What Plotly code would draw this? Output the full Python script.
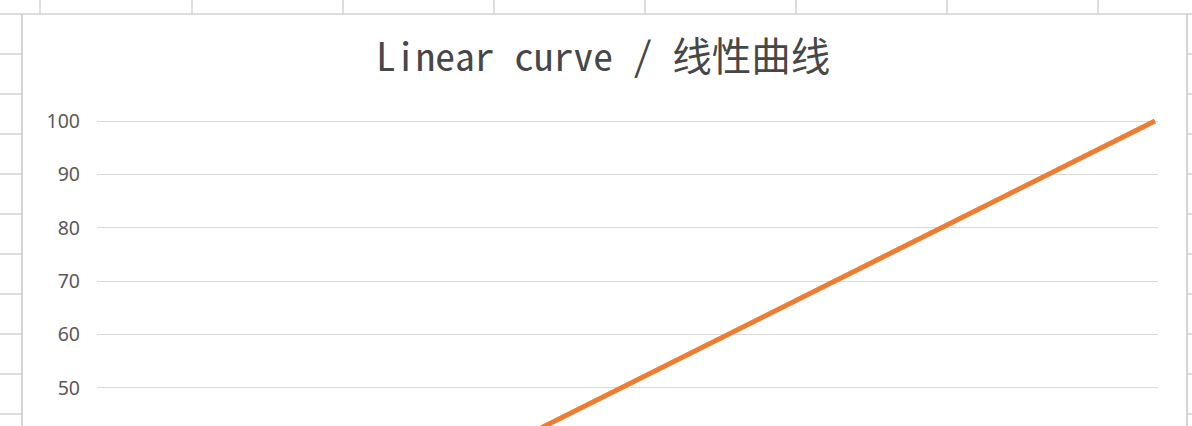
import plotly.graph_objects as go

# ---- data ----
x_values = [0, 10, 20, 30, 40, 50, 60, 70, 80, 90, 100]
y_values = [0, 10, 20, 30, 40, 50, 60, 70, 80, 90, 100]
y_tick_values = [50, 60, 70, 80, 90, 100]
y_tick_labels = ["50", "60", "70", "80", "90", "100"]
title_text = "Linear curve / 线性曲线"

# ---- layout geometry (pixels) ----
W, H = 1192, 426
ML, MR, MT, MB = 97, 34, 110, 0
PW, PH = W - ML - MR, H - MT - MB


def px(xp):
    return (xp - ML) / PW


def py(yp):
    return 1 - (yp - MT) / PH


fig = go.Figure()
fig.add_trace(go.Scatter(
    x=x_values, y=y_values, mode="lines",
    line=dict(color="#ED7D31", width=5),
    hoverinfo="skip", showlegend=False,
))

shapes = []
cell = "#d2d2d2"
# spreadsheet cell lines (outside chart)
shapes.append(dict(type="line", xref="paper", yref="paper",
                   x0=px(0), x1=px(W), y0=py(14), y1=py(14),
                   line=dict(color=cell, width=1.5)))
for xc in [40, 192, 343, 494, 645, 796, 947, 1098]:
    shapes.append(dict(type="line", xref="paper", yref="paper",
                       x0=px(xc), x1=px(xc), y0=py(0), y1=py(14),
                       line=dict(color=cell, width=1.5)))
for yc in [54, 94, 134, 174, 214, 254, 294, 334, 374, 414]:
    shapes.append(dict(type="line", xref="paper", yref="paper",
                       x0=px(0), x1=px(22), y0=py(yc), y1=py(yc),
                       line=dict(color=cell, width=1.5)))
    shapes.append(dict(type="line", xref="paper", yref="paper",
                       x0=px(1187), x1=px(W), y0=py(yc), y1=py(yc),
                       line=dict(color=cell, width=1.5)))
# chart border
shapes.append(dict(type="line", xref="paper", yref="paper",
                   x0=px(22), x1=px(22), y0=py(14), y1=py(H),
                   line=dict(color="#c8c8c8", width=1.5)))
shapes.append(dict(type="line", xref="paper", yref="paper",
                   x0=px(1187), x1=px(1187), y0=py(14), y1=py(H),
                   line=dict(color="#c8c8c8", width=1.5)))

fig.update_layout(
    width=W, height=H,
    margin=dict(l=ML, r=MR, t=MT, b=MB, pad=0),
    paper_bgcolor="white", plot_bgcolor="white",
    shapes=shapes,
    annotations=[dict(
        text=title_text, xref="paper", yref="paper",
        x=px(603), y=py(54), xanchor="center", yanchor="middle",
        showarrow=False,
        font=dict(family="Noto Sans Mono CJK SC, Liberation Mono, Noto Sans CJK SC",
                  size=39.5, color="#474747"),
    )],
    xaxis=dict(range=[0.94, 100.28], visible=False, showgrid=False, zeroline=False),
    yaxis=dict(
        range=[42.88, 102.06],
        tickvals=y_tick_values, ticktext=y_tick_labels,
        showgrid=True, gridcolor="#d9d9d9", gridwidth=1.2,
        zeroline=False, showline=False, ticks="",
        ticklabelstandoff=16,
        tickfont=dict(family="Noto Sans, Open Sans", size=19.5, color="#595959"),
    ),
)

fig.write_html("out.html", config={"displayModeBar": False},
               post_script="document.body.style.margin='0';document.body.style.overflow='hidden';")
